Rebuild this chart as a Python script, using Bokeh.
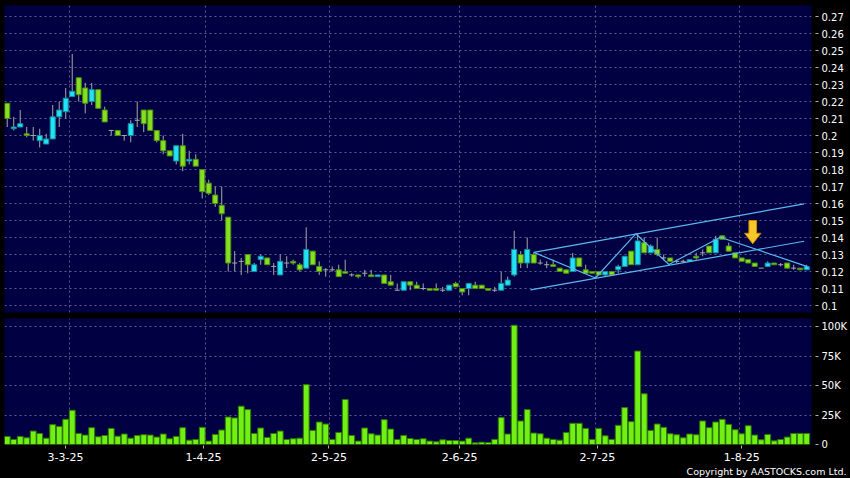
from bokeh.plotting import figure
from bokeh.layouts import column
from bokeh.models import (FixedTicker, CustomJSTickFormatter, Grid, Title,
                          ColumnDataSource, Range1d)
from bokeh.embed import file_html
from bokeh.resources import INLINE

# ---------------- data ----------------
opens = [
    0.219, 0.204, 0.205, 0.201, 0.200, 0.197, 0.195, 0.198, 0.211, 0.214,
    0.223, 0.234, 0.228, 0.220, 0.227, 0.215, 0.203, 0.203, 0.200, 0.200,
    0.209, 0.215, 0.215, 0.203, 0.197, 0.191, 0.185, 0.194, 0.185, 0.186,
    0.180, 0.172, 0.165, 0.159, 0.152, 0.125, 0.126, 0.130, 0.120, 0.127,
    0.128, 0.123, 0.118, 0.125, 0.126, 0.124, 0.122, 0.132, 0.123, 0.121,
    0.121, 0.121, 0.120, 0.118, 0.118, 0.119, 0.118, 0.117, 0.118, 0.114,
    0.109, 0.109, 0.114, 0.112, 0.110, 0.110, 0.110, 0.109, 0.109, 0.113,
    0.110, 0.110, 0.112, 0.112, 0.110, 0.109, 0.109, 0.112, 0.118, 0.130,
    0.125, 0.130, 0.125, 0.124, 0.124, 0.122, 0.121, 0.120, 0.128, 0.121,
    0.120, 0.120, 0.118, 0.120, 0.121, 0.123, 0.132, 0.124, 0.137, 0.131,
    0.133, 0.128, 0.128, 0.126, 0.126, 0.126, 0.129, 0.131, 0.135, 0.131,
    0.141, 0.135, 0.131, 0.128, 0.127, 0.125, 0.122, 0.123, 0.125, 0.124,
    0.125, 0.122, 0.122, 0.121,
]
highs = [
    0.219, 0.211, 0.215, 0.205, 0.205, 0.204, 0.201, 0.218, 0.220, 0.228,
    0.248, 0.234, 0.231, 0.231, 0.227, 0.217, 0.203, 0.203, 0.200, 0.209,
    0.220, 0.215, 0.215, 0.203, 0.200, 0.191, 0.194, 0.201, 0.191, 0.189,
    0.180, 0.174, 0.170, 0.170, 0.152, 0.132, 0.128, 0.130, 0.125, 0.130,
    0.128, 0.125, 0.130, 0.129, 0.127, 0.125, 0.146, 0.132, 0.126, 0.122,
    0.123, 0.124, 0.127, 0.119, 0.118, 0.121, 0.121, 0.118, 0.118, 0.118,
    0.113, 0.114, 0.114, 0.114, 0.113, 0.110, 0.113, 0.111, 0.112, 0.114,
    0.110, 0.113, 0.114, 0.112, 0.110, 0.111, 0.120, 0.117, 0.144, 0.132,
    0.140, 0.131, 0.127, 0.126, 0.127, 0.122, 0.121, 0.131, 0.128, 0.124,
    0.120, 0.120, 0.120, 0.120, 0.124, 0.129, 0.132, 0.142, 0.140, 0.136,
    0.140, 0.130, 0.128, 0.127, 0.127, 0.127, 0.131, 0.133, 0.135, 0.141,
    0.141, 0.137, 0.131, 0.128, 0.127, 0.125, 0.122, 0.126, 0.125, 0.125,
    0.125, 0.124, 0.122, 0.124,
]
lows = [
    0.205, 0.203, 0.205, 0.199, 0.197, 0.193, 0.195, 0.198, 0.205, 0.210,
    0.223, 0.220, 0.213, 0.218, 0.216, 0.208, 0.200, 0.200, 0.197, 0.196,
    0.205, 0.202, 0.203, 0.196, 0.189, 0.188, 0.183, 0.179, 0.183, 0.182,
    0.163, 0.165, 0.158, 0.150, 0.120, 0.120, 0.118, 0.119, 0.120, 0.124,
    0.124, 0.118, 0.118, 0.122, 0.124, 0.120, 0.122, 0.124, 0.118, 0.117,
    0.120, 0.117, 0.119, 0.117, 0.116, 0.117, 0.117, 0.117, 0.113, 0.112,
    0.109, 0.109, 0.109, 0.110, 0.109, 0.109, 0.109, 0.108, 0.109, 0.111,
    0.106, 0.106, 0.110, 0.110, 0.109, 0.108, 0.109, 0.112, 0.117, 0.122,
    0.122, 0.125, 0.124, 0.122, 0.123, 0.120, 0.119, 0.120, 0.123, 0.119,
    0.119, 0.118, 0.117, 0.118, 0.119, 0.123, 0.124, 0.124, 0.131, 0.131,
    0.129, 0.127, 0.126, 0.125, 0.125, 0.126, 0.127, 0.129, 0.131, 0.131,
    0.139, 0.132, 0.128, 0.126, 0.125, 0.123, 0.122, 0.123, 0.124, 0.123,
    0.122, 0.121, 0.121, 0.121,
]
closes = [
    0.210, 0.205, 0.207, 0.200, 0.200, 0.200, 0.198, 0.211, 0.215, 0.222,
    0.226, 0.224, 0.219, 0.227, 0.216, 0.208, 0.203, 0.200, 0.200, 0.207,
    0.209, 0.207, 0.203, 0.197, 0.191, 0.188, 0.194, 0.182, 0.186, 0.182,
    0.167, 0.166, 0.160, 0.154, 0.125, 0.125, 0.126, 0.124, 0.124, 0.129,
    0.124, 0.123, 0.126, 0.125, 0.125, 0.121, 0.133, 0.124, 0.120, 0.121,
    0.121, 0.117, 0.119, 0.118, 0.117, 0.119, 0.117, 0.118, 0.113, 0.112,
    0.109, 0.114, 0.112, 0.110, 0.110, 0.109, 0.109, 0.109, 0.112, 0.111,
    0.108, 0.113, 0.110, 0.110, 0.109, 0.109, 0.113, 0.115, 0.133, 0.125,
    0.133, 0.125, 0.125, 0.124, 0.123, 0.120, 0.119, 0.128, 0.123, 0.119,
    0.119, 0.118, 0.120, 0.118, 0.123, 0.129, 0.124, 0.138, 0.131, 0.135,
    0.130, 0.128, 0.126, 0.126, 0.126, 0.127, 0.128, 0.131, 0.131, 0.139,
    0.139, 0.132, 0.128, 0.126, 0.125, 0.123, 0.122, 0.125, 0.124, 0.124,
    0.122, 0.122, 0.121, 0.123,
]
volumes_k = [
    6.9, 4.3, 6.9, 5.7, 11.4, 9.4, 5.4, 16.9, 15.4, 21.4,
    29.1, 9.4, 8.0, 14.3, 6.6, 7.7, 13.7, 7.1, 8.9, 5.4,
    7.7, 8.3, 8.0, 6.3, 8.9, 4.9, 6.9, 14.3, 3.7, 4.3,
    14.6, 2.9, 8.6, 12.3, 23.4, 22.6, 32.6, 29.7, 9.4, 14.0,
    6.0, 9.4, 11.4, 4.3, 4.9, 5.4, 50.9, 12.0, 19.1, 17.4,
    4.3, 10.3, 38.3, 7.7, 2.9, 14.0, 9.1, 8.0, 21.1, 13.1,
    4.3, 7.7, 5.1, 4.3, 4.9, 2.9, 2.3, 4.0, 3.4, 3.4,
    2.9, 5.4, 1.4, 2.0, 1.7, 4.3, 22.9, 8.9, 101.4, 20.0,
    29.7, 9.7, 9.1, 5.4, 4.3, 3.7, 10.3, 18.0, 18.0, 13.7,
    4.3, 13.7, 7.4, 4.3, 16.3, 31.4, 19.4, 79.4, 43.1, 12.0,
    17.4, 14.6, 9.1, 8.3, 5.7, 8.9, 8.3, 20.0, 14.3, 19.1,
    21.4, 17.1, 12.6, 9.1, 16.0, 8.0, 4.0, 8.6, 3.1, 4.3,
    6.3, 9.4, 9.4, 9.4,
]

date_labels = ["3-3-25", "1-4-25", "2-5-25", "2-6-25", "2-7-25", "1-8-25"]
date_ticks = [8.97, 30.2, 49.5, 69.6, 90.8, 113.0]
date_grid = [9.63, 30.55, 49.63, 69.63, 90.55, 112.6]
price_ticks = [0.10, 0.11, 0.12, 0.13, 0.14, 0.15, 0.16, 0.17, 0.18,
               0.19, 0.20, 0.21, 0.22, 0.23, 0.24, 0.25, 0.26, 0.27]
volume_ticks = [0, 25, 50, 75, 100]

# hand-drawn annotations (index, price)
zigzag_x = [81.0, 90.5, 96.7, 101.8, 109.7, 123.1]
zigzag_y = [0.1313, 0.1162, 0.1422, 0.1241, 0.1402, 0.1229]
upper_x = [81.0, 122.6]
upper_y = [0.1313, 0.1598]
lower_x = [80.5, 122.6]
lower_y = [0.1092, 0.1378]
arrow_center = 114.7
arrow_top, arrow_neck, arrow_tip = 0.150, 0.1425, 0.1363

# ---------------- styles ----------------
NAVY = "#000042"
GRID = "#5c5c92"
GREEN_F, GREEN_L = "#84e020", "#4e8c12"
CYAN_F, CYAN_L = "#22e2f6", "#168c9c"
WICK = "#a8a8a8"
VOL_F, VOL_L = "#70f014", "#2e7600"
TREND = "#5ab8f0"
FONT = "DejaVu Sans"

n = len(opens)
xs = list(range(n))
bodies = dict(x=[], top=[], bottom=[], fill=[], line=[])
dojis = dict(x0=[], x1=[], y=[])
for i in range(n):
    o, c = opens[i], closes[i]
    if abs(o - c) < 1e-9:
        dojis["x0"].append(i - 0.39)
        dojis["x1"].append(i + 0.39)
        dojis["y"].append(o)
    else:
        bodies["x"].append(i)
        bodies["top"].append(max(o, c))
        bodies["bottom"].append(min(o, c))
        up = c > o
        bodies["fill"].append(CYAN_F if up else GREEN_F)
        bodies["line"].append(CYAN_L if up else GREEN_L)

x_range = Range1d(-0.42, 123.74)

# ---------------- price panel ----------------
p = figure(width=850, height=315, x_range=x_range, y_range=Range1d(0.0959, 0.2765),
           x_axis_location=None, y_axis_location="right",
           toolbar_location=None, output_backend="svg",
           min_border_left=4, min_border_right=39, min_border_top=5, min_border_bottom=3)
p.background_fill_color = NAVY
p.border_fill_color = "black"
p.outline_line_color = None

ya = p.yaxis[0]
ya.ticker = FixedTicker(ticks=price_ticks)
ya.formatter = CustomJSTickFormatter(code="return String(Number(tick.toFixed(2)));")
ya.axis_line_color = None
ya.major_tick_line_color = "#b0b0b0"
ya.major_tick_in = -4
ya.major_tick_out = 7
ya.minor_tick_line_color = None
ya.major_label_standoff = 3
ya.major_label_text_color = "white"
ya.major_label_text_font = FONT
ya.major_label_text_font_size = "10px"

p.ygrid.ticker = FixedTicker(ticks=price_ticks)
p.ygrid.grid_line_color = GRID
p.ygrid.grid_line_dash = "2 3"
# drop any default vertical grid, then add the date grid
p.xgrid.visible = False
p.add_layout(Grid(dimension=0, ticker=FixedTicker(ticks=date_grid),
                  grid_line_color=GRID, grid_line_dash="2 3"))

p.segment(x0=xs, y0=lows, x1=xs, y1=highs, line_color=WICK, line_width=1)
p.vbar(x="x", top="top", bottom="bottom", width=0.78, fill_color="fill",
       line_color="line", line_width=1, source=ColumnDataSource(bodies))
p.segment(x0="x0", y0="y", x1="x1", y1="y", line_color=WICK, line_width=1,
          source=ColumnDataSource(dojis))

p.line(zigzag_x, zigzag_y, line_color=TREND, line_width=1.2)
p.line(upper_x, upper_y, line_color=TREND, line_width=1.2)
p.line(lower_x, lower_y, line_color=TREND, line_width=1.2)

sw, hw = 0.59, 1.25
p.patch([arrow_center - sw, arrow_center + sw, arrow_center + sw, arrow_center + hw,
         arrow_center, arrow_center - hw, arrow_center - sw],
        [arrow_top, arrow_top, arrow_neck, arrow_neck, arrow_tip, arrow_neck, arrow_neck],
        fill_color="#f8c828", line_color="#d08a00", line_width=1)

# ---------------- volume panel ----------------
v = figure(width=850, height=163, x_range=x_range, y_range=Range1d(0, 107.1),
           x_axis_location="below", y_axis_location="right",
           toolbar_location=None, output_backend="svg",
           min_border_left=4, min_border_right=39, min_border_top=3, min_border_bottom=34)
v.background_fill_color = NAVY
v.border_fill_color = "black"
v.outline_line_color = None

va = v.yaxis[0]
va.ticker = FixedTicker(ticks=volume_ticks)
va.formatter = CustomJSTickFormatter(code="return tick == 0 ? '0' : Math.round(tick) + 'K';")
va.axis_line_color = None
va.major_tick_line_color = "#b0b0b0"
va.major_tick_in = -4
va.major_tick_out = 7
va.minor_tick_line_color = None
va.major_label_standoff = 3
va.major_label_text_color = "white"
va.major_label_text_font = FONT
va.major_label_text_font_size = "10px"

xa = v.xaxis[0]
xa.ticker = FixedTicker(ticks=date_ticks)
xa.formatter = CustomJSTickFormatter(args=dict(tick_pos=date_ticks, tick_txt=date_labels), code="""
let best = 0;
for (let i = 0; i < tick_pos.length; i++) {
  if (Math.abs(tick_pos[i] - tick) < Math.abs(tick_pos[best] - tick)) best = i;
}
return tick_txt[best];
""")
xa.axis_line_color = None
xa.major_tick_line_color = "#b0b0b0"
xa.major_tick_in = -1
xa.major_tick_out = 4
xa.minor_tick_line_color = None
xa.major_label_standoff = 4
xa.major_label_text_color = "white"
xa.major_label_text_font = FONT
xa.major_label_text_font_size = "11px"

v.ygrid.ticker = FixedTicker(ticks=volume_ticks)
v.ygrid.grid_line_color = GRID
v.ygrid.grid_line_dash = "2 3"
v.xgrid.ticker = FixedTicker(ticks=date_grid)
v.xgrid.grid_line_color = GRID
v.xgrid.grid_line_dash = "2 3"

v.vbar(x=xs, top=volumes_k, bottom=0, width=0.9, fill_color=VOL_F,
       line_color=VOL_L, line_width=1)

v.add_layout(Title(text="Copyright by AASTOCKS.com Ltd.", align="right",
                   text_color="white", text_font=FONT, text_font_size="9.5px",
                   text_font_style="normal", standoff=0, offset=-35), "below")

layout = column(p, v, spacing=0)
layout.background = "black"

open("out.html", "w").write(file_html(layout, INLINE))
